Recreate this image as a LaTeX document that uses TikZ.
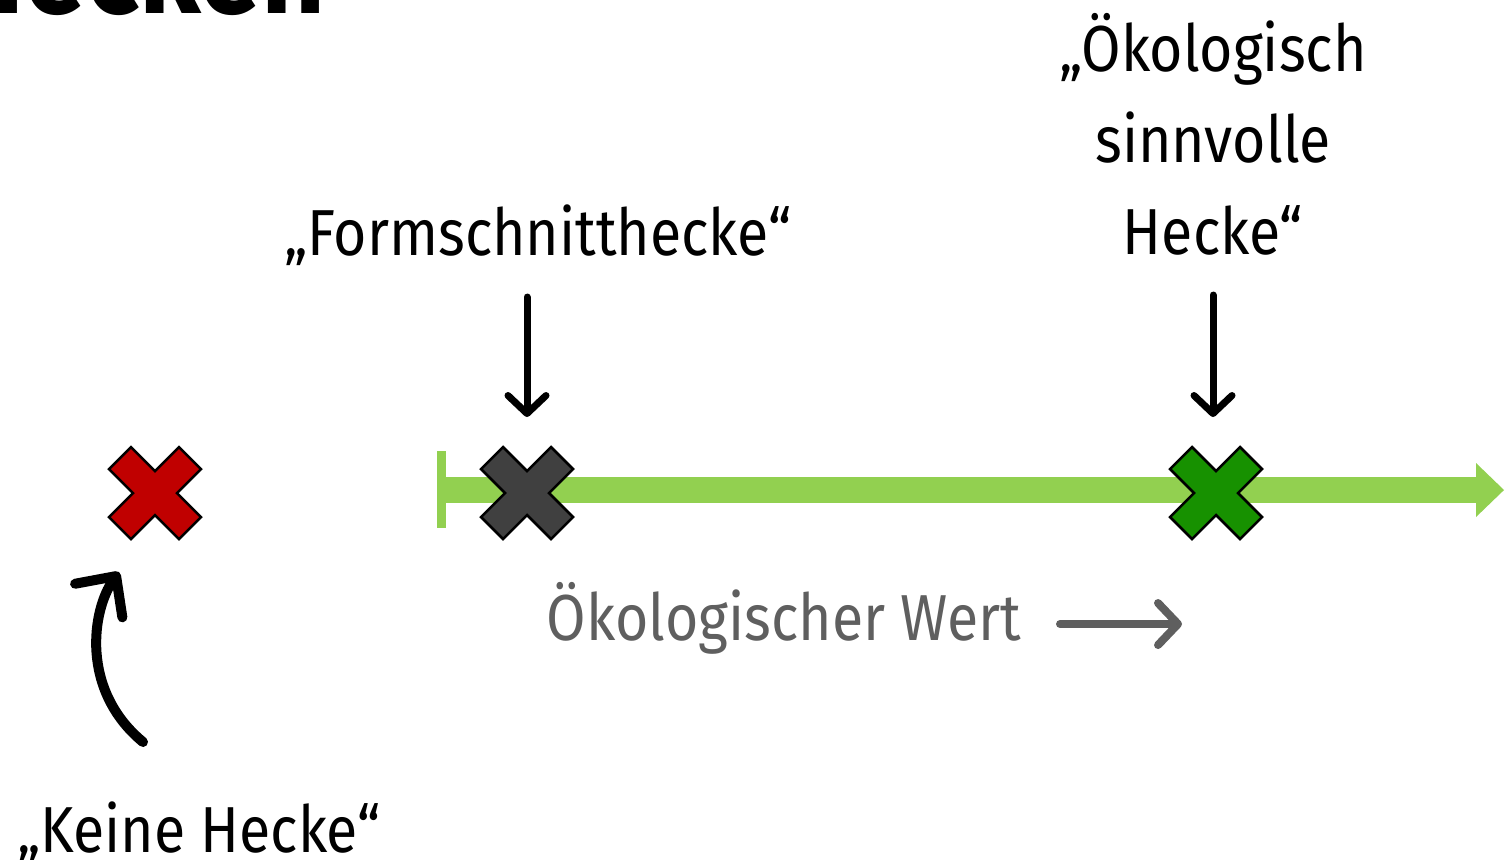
\documentclass[tikz,border=0pt]{standalone}
\usepackage{fontspec}
\newfontfamily\schrift[FakeStretch=0.88]{Fira Sans}
\usepackage{xcolor}
\usepackage{tikz}
\usetikzlibrary{arrows.meta, positioning}

\definecolor{rotkreuz}{HTML}{C00000}
\definecolor{graukreuz}{HTML}{404040}
\definecolor{gruenkreuz}{HTML}{179100}
\definecolor{hellgruen}{HTML}{92D050}
\definecolor{wertgrau}{HTML}{5F5F5F}

% cross mark: #1 = centre, #2 = fill colour
\newcommand{\kreuz}[2]{%
  \draw[line width=0.25mm, line join=miter, fill=#2] (#1) ++(0,0.22)
    -- ++(-0.24,0.24) -- ++(-0.22,-0.22) -- ++(0.24,-0.24)
    -- ++(-0.24,-0.24) -- ++(0.22,-0.22) -- ++(0.24,0.24)
    -- ++(0.24,-0.24) -- ++(0.22,0.22) -- ++(-0.24,0.24)
    -- ++(0.24,0.24) -- ++(-0.22,0.22) -- cycle;}

\tikzset{
  beschriftung/.style={font=\schrift\fontsize{18.5}{26}\selectfont, inner sep=0pt},
  titel/.style={font=\schrift\bfseries\fontsize{36}{40}\selectfont, inner sep=0pt},
  pfeil/.style={line width=0.7mm, line cap=round, -{Straight Barb[length=1.8mm, width=3.8mm, round]}},
  bogen/.style={line width=1mm, line cap=round, -{Straight Barb[length=3mm, width=5.8mm, round]}},
  wertpfeil/.style={wertgrau, line width=0.8mm, line cap=round, -{Straight Barb[length=2mm, width=4.2mm, round]}}
}

\begin{document}
\begin{tikzpicture}
    \useasboundingbox (0,0) rectangle (15.05,-8.59);

    % Title (cut off at the top)
    \node[titel, anchor=base west] (titel) at (-0.50,-0.13) {Hecken};

    % Scale bar
    \fill[hellgruen] (4.46,-4.77) rectangle (14.76,-5.03);
    \fill[hellgruen] (14.76,-4.63) -- (15.04,-4.90) -- (14.76,-5.17) -- cycle;
    \fill[hellgruen] (4.37,-4.51) rectangle (4.46,-5.28);

    % Crosses
    \coordinate (kreuzRot) at (1.55,-4.93);
    \coordinate (kreuzGrau) at (5.27,-4.93);
    \coordinate (kreuzGruen) at (12.16,-4.93);
    \kreuz{kreuzRot}{rotkreuz}
    \kreuz{kreuzGrau}{graukreuz}
    \kreuz{kreuzGruen}{gruenkreuz}

    % Labels
    \node[beschriftung, anchor=base] (form) at (5.38,-2.55) {„Formschnitthecke“};
    \node[beschriftung, align=center] (oeko) at (12.13,-1.34) {„Ökologisch\\sinnvolle\\Hecke“};
    \node[beschriftung, anchor=base] (keine) at (1.99,-8.52) {„Keine Hecke“};
    \node[beschriftung, anchor=base, text=wertgrau] (wert) at (7.84,-6.40) {Ökologischer Wert};

    % Pointers
    \coordinate (formPfeil) at (5.27,-2.97);
    \coordinate (formSpitze) at (5.27,-4.17);
    \draw[pfeil] (formPfeil) -- (formSpitze);
    \coordinate (oekoPfeil) at (12.13,-2.95);
    \coordinate (oekoSpitze) at (12.13,-4.17);
    \draw[pfeil] (oekoPfeil) -- (oekoSpitze);
    \coordinate (bogenStart) at (1.43,-7.42);
    \coordinate (bogenEnde) at (1.19,-5.72);
    \draw[bogen] (bogenStart) .. controls (0.80,-6.90) and (0.92,-6.10) .. (bogenEnde);

    % Value arrow
    \coordinate (wertStart) at (10.60,-6.24);
    \coordinate (wertEnde) at (11.82,-6.24);
    \draw[wertpfeil] (wertStart) -- (wertEnde);
\end{tikzpicture}
\end{document}
